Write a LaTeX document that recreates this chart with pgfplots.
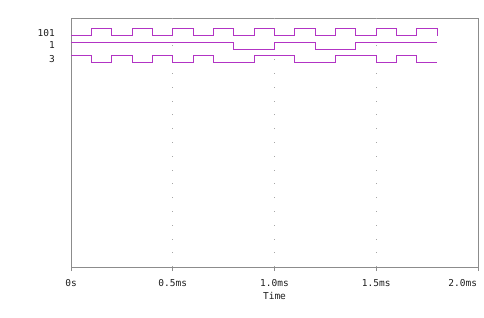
\documentclass[border=0pt]{standalone}
\usepackage{fontspec}
\setmainfont{DejaVu Sans Mono}
\usepackage{pgfplots}
\pgfplotsset{compat=1.18}
\definecolor{sig}{RGB}{178,52,196}
\definecolor{frame}{RGB}{140,140,140}
\definecolor{txt}{RGB}{30,30,30}
\begin{document}
\fontsize{9.5}{11}\selectfont
\begin{tikzpicture}[x=1pt,y=1pt]
\useasboundingbox (0,0) rectangle (484,317);
\begin{axis}[
  at={(71pt,50pt)}, anchor=south west,
  scale only axis, width=407pt, height=249pt,
  xmin=0, xmax=2, ymin=0, ymax=249,
  axis line style={frame, line width=1pt},
  xtick={0,0.5,1,1.5,2},
  xticklabels={0s,0.5ms,1.0ms,1.5ms,{\makebox[0pt][r]{2.0ms\kern1pt}}},
  xtick pos=bottom, xtick align=outside,
  major tick length=4pt,
  tick style={frame, line width=0.8pt},
  ytick=\empty,
  xticklabel style={anchor=base, yshift=-15pt, text=txt, font=\fontsize{9.5}{11}\selectfont},
  xlabel={Time},
  xlabel style={at={(axis description cs:0.5,0)}, anchor=base, yshift=-32pt, text=txt, font=\fontsize{9.5}{11}\selectfont},
  grid=none,
  clip=false,
]
\foreach \g in {0.5,1.0,1.5}{
  \edef\tmp{\noexpand\draw[gray!70, line width=0.7pt, dash pattern=on 0.8pt off 13pt] (axis cs:\g,0) -- (axis cs:\g,249);}
  \tmp
}
% signal 101 (low 231.3, high 239)
\addplot[sig, line width=1pt, const plot mark left] coordinates {
(0,231.3) (0.1,239) (0.2,231.3) (0.3,239) (0.4,231.3) (0.5,239) (0.6,231.3)
(0.7,239) (0.8,231.3) (0.9,239) (1.0,231.3) (1.1,239) (1.2,231.3) (1.3,239)
(1.4,231.3) (1.5,239) (1.6,231.3) (1.7,239) (1.8,231.3)};
% signal 1 (low 217.7, high 224.7)
\addplot[sig, line width=1pt, const plot mark left] coordinates {
(0,224.7) (0.8,217.7) (1.0,224.7) (1.2,217.7) (1.4,224.7) (1.8,224.7)};
% signal 3 (low 204.7, high 211.3)
\addplot[sig, line width=1pt, const plot mark left] coordinates {
(0,211.3) (0.1,204.7) (0.2,211.3) (0.3,204.7) (0.4,211.3) (0.5,204.7) (0.6,211.3)
(0.7,204.7) (0.9,211.3) (1.1,204.7) (1.3,211.3) (1.5,204.7) (1.6,211.3)
(1.7,204.7) (1.8,204.7)};
\end{axis}
\node[anchor=east, inner sep=0pt, text=txt] at (55,284) {101};
\node[anchor=east, inner sep=0pt, text=txt] at (55,272) {1};
\node[anchor=east, inner sep=0pt, text=txt] at (55,257.5) {3};
\end{tikzpicture}
\end{document}
